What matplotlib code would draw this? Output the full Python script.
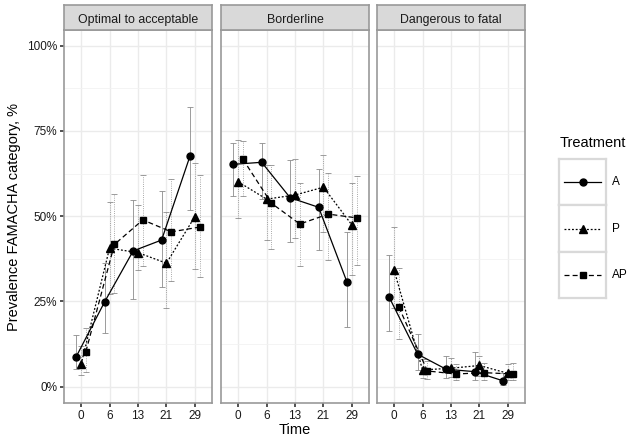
import numpy as np
import matplotlib
matplotlib.use("Agg")
import matplotlib.pyplot as plt
from matplotlib.ticker import FuncFormatter

plt.rcParams['font.family'] = ['Liberation Sans', 'DejaVu Sans']

times = ['0', '6', '13', '21', '29']
panels = ['Optimal to acceptable', 'Borderline', 'Dangerous to fatal']
treatments = ['A', 'P', 'AP']

# prevalence (%) per panel, per treatment
opt_A = [8.8, 24.9, 39.8, 43.0, 67.7]
opt_A_lo = [5.1, 15.6, 25.6, 29.1, 51.8]
opt_A_hi = [15.2, 36.2, 54.6, 57.3, 81.9]
opt_P = [6.5, 40.6, 39.3, 36.2, 49.9]
opt_P_lo = [3.4, 27.2, 34.2, 23.0, 34.4]
opt_P_hi = [12.0, 54.1, 53.3, 51.3, 65.5]
opt_AP = [10.3, 41.7, 48.9, 45.4, 46.8]
opt_AP_lo = [4.4, 27.4, 35.5, 31.0, 32.1]
opt_AP_hi = [17.1, 56.4, 62.2, 60.8, 62.0]

bord_A = [65.2, 65.8, 55.4, 52.6, 30.6]
bord_A_lo = [55.9, 55.0, 42.3, 40.1, 17.6]
bord_A_hi = [71.4, 71.6, 66.5, 63.7, 45.3]
bord_P = [60.1, 55.0, 56.2, 58.5, 47.4]
bord_P_lo = [49.4, 43.0, 43.5, 45.3, 32.7]
bord_P_hi = [72.3, 65.0, 66.7, 67.8, 59.6]
bord_AP = [66.7, 53.8, 47.7, 50.6, 49.5]
bord_AP_lo = [56.0, 40.4, 35.4, 37.1, 35.7]
bord_AP_hi = [72.1, 65.0, 59.6, 62.6, 61.8]

dang_A = [26.2, 9.5, 5.1, 4.4, 1.7]
dang_A_lo = [16.3, 5.0, 2.5, 2.0, 0.5]
dang_A_hi = [38.6, 15.4, 9.1, 10.1, 4.0]
dang_P = [34.2, 4.9, 5.4, 6.2, 3.9]
dang_P_lo = [23.0, 2.5, 2.8, 3.0, 1.8]
dang_P_hi = [46.7, 8.0, 8.5, 9.0, 6.5]
dang_AP = [23.3, 4.6, 3.7, 4.1, 3.7]
dang_AP_lo = [13.9, 2.2, 1.8, 2.0, 1.8]
dang_AP_hi = [34.7, 7.5, 6.5, 7.0, 6.8]

data = {
    'Optimal to acceptable': [(opt_A, opt_A_lo, opt_A_hi), (opt_P, opt_P_lo, opt_P_hi), (opt_AP, opt_AP_lo, opt_AP_hi)],
    'Borderline': [(bord_A, bord_A_lo, bord_A_hi), (bord_P, bord_P_lo, bord_P_hi), (bord_AP, bord_AP_lo, bord_AP_hi)],
    'Dangerous to fatal': [(dang_A, dang_A_lo, dang_A_hi), (dang_P, dang_P_lo, dang_P_hi), (dang_AP, dang_AP_lo, dang_AP_hi)],
}

markers = ['o', '^', 's']
msizes = [5, 5.5, 5]
lstyles = ['-', (0, (1.5, 1.5)), (0, (4, 2.5))]
estyles = ['-', ':', ':']
dodge = [-0.17, 0.0, 0.17]

W, H = 636, 441
fig = plt.figure(figsize=(W / 100, H / 100), dpi=100)

panel_x = [(64, 212), (221, 369), (377, 525)]
top, bot, strip_top = 30, 403, 5
x = np.arange(len(times))

for i, name in enumerate(panels):
    l, r = panel_x[i]
    ax = fig.add_axes([l / W, 1 - bot / H, (r - l) / W, (bot - top) / H])
    ax.set_xlim(-0.6, len(times) - 0.4)
    ax.set_ylim(-0.048, 1.046)
    ax.set_yticks([0, 0.25, 0.5, 0.75, 1.0])
    ax.set_yticks([0.125, 0.375, 0.625, 0.875], minor=True)
    ax.set_xticks(x)
    ax.set_xticklabels(times, fontsize=8.5, color='#1a1a1a')
    ax.grid(True, which='major', color='#ebebeb', lw=1.0)
    ax.grid(True, which='minor', axis='y', color='#f2f2f2', lw=0.6)
    ax.set_axisbelow(True)
    for s in ax.spines.values():
        s.set_color('#999999')
        s.set_linewidth(1.2)
    ax.tick_params(axis='both', length=3, width=1.2, color='#333333', pad=2)
    ax.tick_params(which='minor', length=0)
    if i == 0:
        ax.yaxis.set_major_formatter(FuncFormatter(lambda v, p: '%d%%' % round(v * 100)))
        ax.tick_params(axis='y', labelsize=8.5, labelcolor='#1a1a1a')
        ax.set_ylabel('Prevalence FAMACHA category, %', fontsize=10.5, labelpad=4)
    else:
        ax.tick_params(axis='y', labelleft=False, left=False)
    if i == 1:
        ax.set_xlabel('Time', fontsize=10.5, labelpad=1)

    for j, (vals, lo, hi) in enumerate(data[name]):
        v = np.array(vals) / 100
        lo = np.array(lo) / 100
        hi = np.array(hi) / 100
        xs = x + dodge[j]
        ax.errorbar(xs, v, yerr=[v - lo, hi - v], fmt='none', ecolor='#8c8c8c',
                    elinewidth=0.6, capsize=2.5, capthick=0.6, ls=estyles[j], zorder=2)
        eb = ax.containers[-1]
        for c in eb.lines[2]:
            c.set_linestyle(estyles[j])
        ax.plot(xs, v, color='black', lw=0.9, ls=lstyles[j], marker=markers[j],
                ms=msizes[j], zorder=3)

    # strip
    sax = fig.add_axes([l / W, 1 - top / H, (r - l) / W, (top - strip_top) / H])
    sax.set_facecolor('#d9d9d9')
    sax.set_xticks([])
    sax.set_yticks([])
    for s in sax.spines.values():
        s.set_color('#999999')
        s.set_linewidth(1.2)
    sax.text(0.5, 0.45, name, ha='center', va='center_baseline', fontsize=8.9, color='#1a1a1a',
             transform=sax.transAxes)

# legend
fig.text(560 / W, 1 - 143 / H, 'Treatment', fontsize=10.5, va='center', ha='left')
key_y = [(159, 205), (205, 252), (252, 298)]
for j, t in enumerate(treatments):
    y0, y1 = key_y[j]
    kax = fig.add_axes([559 / W, 1 - y1 / H, 47 / W, (y1 - y0) / H])
    kax.set_xlim(0, 1)
    kax.set_ylim(0, 1)
    kax.set_xticks([])
    kax.set_yticks([])
    for s in kax.spines.values():
        s.set_color('#d9d9d9')
        s.set_linewidth(1.6)
    kax.plot([0.1, 0.9], [0.5, 0.5], color='black', lw=0.9, ls=lstyles[j])
    kax.plot([0.5], [0.5], color='black', marker=markers[j], ms=msizes[j])
    fig.text(612 / W, 1 - (y0 + y1) / 2 / H, t, fontsize=8.5, va='center', ha='left')

fig.savefig('out.png', dpi=100)
